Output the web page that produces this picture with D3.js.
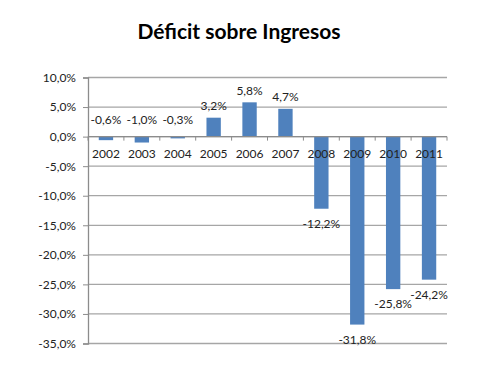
<!DOCTYPE html>
<html><head><meta charset="utf-8">
<script src="https://cdn.jsdelivr.net/npm/d3@7"></script>
<style>body{margin:0;background:#fff}svg{display:block}</style>
</head><body>
<script>
const title = "Déficit sobre Ingresos";
const years = ["2002","2003","2004","2005","2006","2007","2008","2009","2010","2011"];
const values = [-0.6,-1.0,-0.3,3.2,5.8,4.7,-12.2,-31.8,-25.8,-24.2];
const yTicks = [10,5,0,-5,-10,-15,-20,-25,-30,-35];

const W=498,H=368;
const m={l:88,r:51,t:77.5,b:24.5};
const svg=d3.select("body").append("svg").attr("width",W).attr("height",H);
const font="Lato, 'Open Sans', sans-serif";
const fmt=v=>d3.format(".1f")(v).replace(".",",").replace("−","-")+"%";

const x=d3.scaleBand().domain(years).range([m.l,W-m.r]).paddingInner(0.6).paddingOuter(0.3);
const y=d3.scaleLinear().domain([-35,10]).range([H-m.b,m.t]);

svg.append("text").attr("x",239).attr("y",39).attr("text-anchor","middle")
  .attr("font-family",font).attr("font-weight","bold").attr("font-size",21).attr("fill","#000").text(title);

// gridlines
svg.append("g").selectAll("line").data(yTicks).join("line")
  .attr("x1",m.l).attr("x2",W-m.r).attr("y1",d=>y(d)).attr("y2",d=>y(d))
  .attr("stroke","#a6a6a6").attr("stroke-width",1.3);

// y axis
const ya=svg.append("g").attr("transform",`translate(${m.l},0)`)
  .call(d3.axisLeft(y).tickValues(yTicks).tickSize(5).tickPadding(7).tickFormat(fmt));
ya.select(".domain").attr("stroke","#8c8c8c").attr("stroke-width",1.3);
ya.selectAll(".tick line").attr("stroke","#8c8c8c");
ya.selectAll("text").attr("font-family",font).attr("font-size",12).attr("fill","#222");

// bars
svg.append("g").selectAll("rect").data(values).join("rect")
  .attr("x",(d,i)=>x(years[i])).attr("width",x.bandwidth())
  .attr("y",d=>y(Math.max(0,d))).attr("height",d=>Math.abs(y(d)-y(0)))
  .attr("fill","#4f81bd");

// x axis at zero
const xa=svg.append("g").attr("transform",`translate(0,${y(0)})`);
xa.append("line").attr("x1",m.l).attr("x2",W-m.r).attr("stroke","#8c8c8c").attr("stroke-width",1.3);
const bounds=years.map(d=>x(d)-x.step()*x.paddingInner()/2).concat([W-m.r]);
xa.selectAll("line.t").data(bounds).join("line").attr("class","t")
  .attr("x1",d=>d).attr("x2",d=>d).attr("y1",0).attr("y2",4).attr("stroke","#8c8c8c");
xa.selectAll("text").data(years).join("text")
  .attr("x",d=>x(d)+x.bandwidth()/2).attr("y",21).attr("text-anchor","middle")
  .attr("font-family",font).attr("font-size",12).attr("fill","#222").text(d=>d);

// data labels
svg.append("g").selectAll("text").data(values).join("text")
  .attr("x",(d,i)=>x(years[i])+x.bandwidth()/2)
  .attr("y",d=> d>=0 ? y(d)-12 : (d>-5 ? y(0)-16.5 : y(d)+15))
  .attr("dy","0.35em").attr("text-anchor","middle")
  .attr("font-family",font).attr("font-size",12).attr("fill","#222").text(fmt);
</script>
</body></html>
